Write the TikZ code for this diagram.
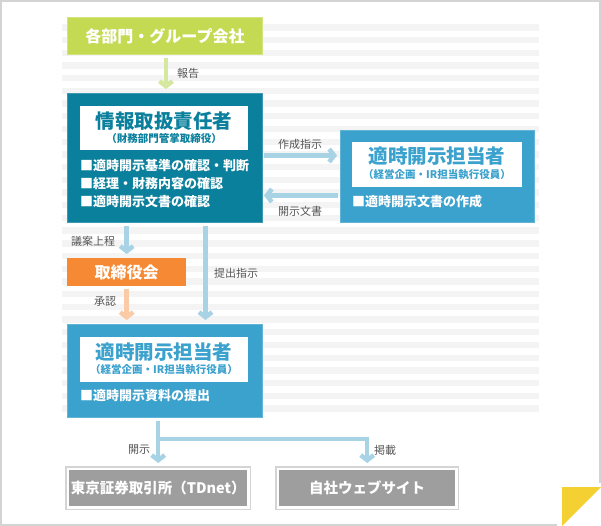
\documentclass[tikz,border=0pt]{standalone}
\usepackage{fontspec}
\setmainfont{Noto Sans CJK JP}
\usetikzlibrary{arrows.meta,calc}
\definecolor{cgreen}{HTML}{C4DA52}
\definecolor{cgreenarr}{HTML}{D6E79F}
\definecolor{cteal}{HTML}{0B809D}
\definecolor{cblue}{HTML}{3BA1CD}
\definecolor{carr}{HTML}{A8D3E4}
\definecolor{corange}{HTML}{F68A34}
\definecolor{cpeach}{HTML}{FBCAA6}
\definecolor{cgray}{HTML}{9E9E9E}
\definecolor{cframe}{HTML}{D4D4D4}
\definecolor{cstripe}{HTML}{F4F4F4}
\definecolor{clabel}{HTML}{555555}
\definecolor{cyellow}{HTML}{F5D033}
\begin{document}
\begin{tikzpicture}[x=1pt,y=-1pt,
  box/.style={anchor=north west,inner sep=0pt,minimum width=#1},
  bigbox/.style={box=195pt,line width=1pt},
  panel/.style={anchor=north west,fill=white,inner sep=0pt},
  ttl/.style={font=\bfseries\fontsize{19.5}{22}\selectfont},
  sub/.style={font=\bfseries\fontsize{10.5}{12}\selectfont},
  bul/.style={anchor=west,text=white,inner sep=0pt,font=\bfseries\fontsize{13}{15}\selectfont},
  lbl/.style={text=clabel,inner sep=0pt,font=\fontsize{11}{13}\selectfont},
  arrbase/.style={line width=4.5pt,-{Straight Barb[length=5pt,width=13pt,line join=miter]},shorten >=4pt,shorten <=3pt},
  arrB/.style={arrbase,draw=carr},
  arrG/.style={arrbase,draw=cgreenarr},
  arrP/.style={arrbase,draw=cpeach},
  graybox/.style={anchor=north west,fill=cgray,inner sep=0pt,minimum width=178pt,minimum height=36pt,text=white,font=\bfseries\fontsize{14.5}{16}\selectfont},
  frame/.style={draw=cframe,line width=1.2pt}
]
\useasboundingbox (0,0) rectangle (601,526);
\fill[white] (0,0) rectangle (601,526);
% stripes
\foreach \i in {0,...,30}{
  \fill[cstripe] (62,{24.3+12.7*\i}) rectangle (539,{30.6+12.7*\i});
}
% outer frame
\draw[cframe,line width=2pt] (1,526) -- (1,1) -- (599.5,1) -- (599.5,483);
\draw[cframe,line width=2pt] (0,524.5) -- (557,524.5);
\fill[cyellow] (562,487) -- (601,487) -- (562,526) -- cycle;

% green box
\node[box=195pt,minimum height=37pt,fill=cgreen,draw=cgreen!75!white,line width=1pt,text=white,font=\bfseries\fontsize{16}{18}\selectfont] (grp) at (67,17) {各部門・グループ会社};

% teal box
\node[bigbox,minimum height=129pt,fill=cteal,draw=cteal!80!white] (resp) at (67,93) {};
\node[panel,minimum width=168pt,minimum height=44pt] (respP) at (80,106) {};
\node[ttl,text=cteal,inner sep=0pt] (respT) at (164,121) {情報取扱責任者};
\node[sub,text=cteal,inner sep=0pt] (respS) at (164,138.5) {（財務部門管掌取締役）};
\node[bul] (rb1) at (80,166) {■適時開示基準の確認・判断};
\node[bul] (rb2) at (80,184) {■経理・財務内容の確認};
\node[bul] (rb3) at (80,202) {■適時開示文書の確認};

% right blue box
\node[box=194pt,minimum height=92pt,fill=cblue,draw=cblue!80!white,line width=1pt] (disc) at (340,130) {};
\node[panel,minimum width=170pt,minimum height=45pt] (discP) at (352,142) {};
\node[ttl,text=cblue,inner sep=0pt] (discT) at (437,156.5) {適時開示担当者};
\node[sub,text=cblue,inner sep=0pt] (discS) at (437,174.5) {（経営企画・IR担当執行役員）};
\node[bul] (db1) at (352,202) {■適時開示文書の作成};

% orange box
\node[box=119pt,minimum height=28pt,fill=corange,text=white,font=\bfseries\fontsize{16}{18}\selectfont] (board) at (67,258) {取締役会};

% bottom blue box
\node[bigbox,minimum height=93pt,fill=cblue,draw=cblue!80!white] (disc2) at (67,324) {};
\node[panel,minimum width=168pt,minimum height=45pt] (disc2P) at (80,337) {};
\node[ttl,text=cblue,inner sep=0pt] (disc2T) at (164,352.5) {適時開示担当者};
\node[sub,text=cblue,inner sep=0pt] (disc2S) at (164,370) {（経営企画・IR担当執行役員）};
\node[bul] (d2b1) at (80,396) {■適時開示資料の提出};

% gray boxes
\node[graybox] (tse) at (69,470) {東京証券取引所（TDnet）};
\draw[frame] ([shift={(-3pt,3pt)}]tse.north west) rectangle ([shift={(3pt,-3pt)}]tse.south east);
\node[graybox,minimum width=176pt] (web) at (279,470) {自社ウェブサイト};
\draw[frame] ([shift={(-3pt,3pt)}]web.north west) rectangle ([shift={(3pt,-3pt)}]web.south east);

% connectors
\draw[arrG] ([xshift=1pt]grp.south) -- ([xshift=1pt]resp.north);
\node[lbl] (l1) at (188,73) {報告};

\draw[arrB,shorten <=1pt,shorten >=3pt] ([yshift=2.5pt]resp.east) -- ([yshift=2.5pt]resp.east -| disc.west);
\node[lbl] (l2) at (300,144) {作成指示};
\draw[arrB,shorten <=2pt,shorten >=1pt] ([yshift=-19pt]disc.west) -- ([yshift=-19pt]disc.west -| resp.east);
\node[lbl] (l3) at (300,211) {開示文書};

\draw[arrB] (board.north |- resp.south) -- (board.north);
\node[lbl] (l4) at (93,241) {議案上程};
\draw[arrP] (board.south) -- (board.south |- disc2.north);
\node[lbl] (l5) at (105,302) {承認};
\draw[arrB] ([xshift=40.5pt]resp.south) -- ([xshift=40.5pt]resp.south |- disc2.north);
\node[lbl] (l6) at (236,273) {提出指示};

\coordinate (j) at (158,439);
\draw[arrB,shorten >=7pt] (tse.north |- disc2.south) -- (tse.north);
\draw[arrB,line join=miter,shorten <=0pt,shorten >=7pt] (j -| tse.north) -- (j -| web.north) -- (web.north);
\node[lbl] (l7) at (139,450) {開示};
\node[lbl] (l8) at (385,450) {掲載};
\end{tikzpicture}
\end{document}
